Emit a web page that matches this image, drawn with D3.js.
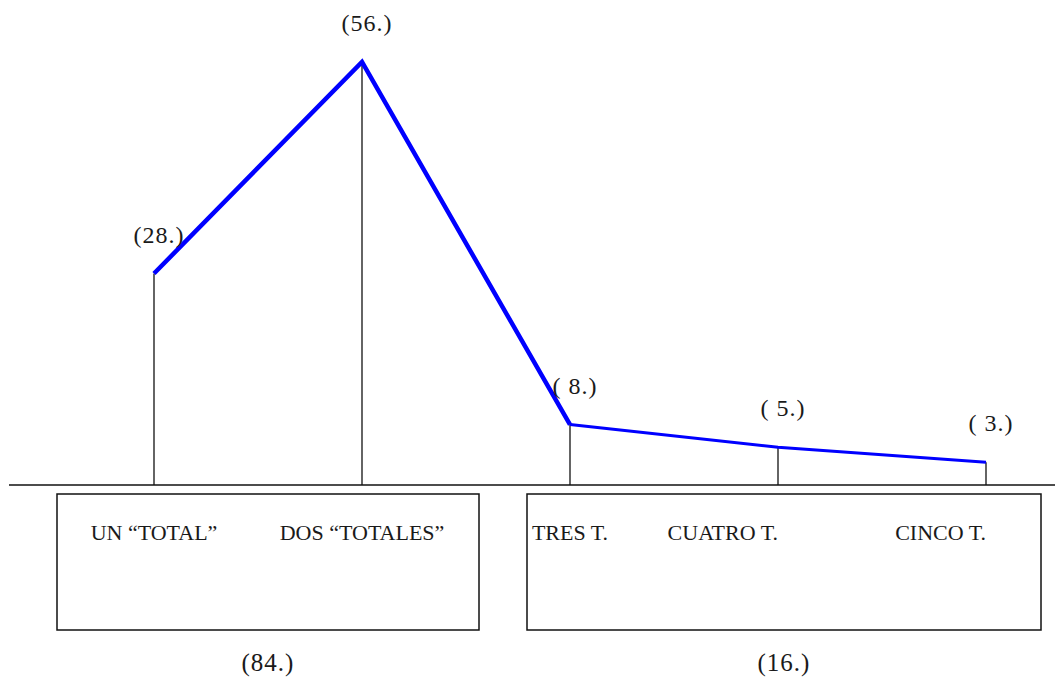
<!DOCTYPE html>
<html lang="es">
<head>
<meta charset="UTF-8">
<title>Totales</title>
<style>
    body { margin: 0; background: #fff; }
    svg { display: block; }
    text { font-family: "Liberation Serif", "Times New Roman", serif; fill: #1a1a1a; white-space: pre; }
    .stem, .base, .box { stroke: #111; fill: none; }
</style>
<script src="https://cdn.jsdelivr.net/npm/d3@7"></script>
</head>
<body>
<svg width="1055" height="677"></svg>
<script>
    // data
    var categories = ["UN \u201CTOTAL\u201D", "DOS \u201CTOTALES\u201D", "TRES T.", "CUATRO T.", "CINCO T."];
    var values = [28, 56, 8, 5, 3];
    var groups = [[0, 1], [2, 3, 4]];

    var svg = d3.select("svg"),
        width = +svg.attr("width"),
        height = +svg.attr("height");

    var baseY = 485;

    var x = d3.scalePoint()
        .domain(d3.range(categories.length))
        .range([154, 986]);

    var y = d3.scaleLinear()
        .domain([0, 56])
        .range([baseY, 62]);

    // box padding left/right for each group
    var boxPad = [[97, 117], [43, 55]];
    var boxTop = 494, boxBottom = 630;

    function fmt(v) {
        return "(" + (v < 10 ? " " : "") + v + ".)";
    }

    // baseline
    svg.append("line")
        .attr("class", "base")
        .attr("x1", 9).attr("x2", width)
        .attr("y1", baseY).attr("y2", baseY)
        .attr("stroke-width", 1.5);

    // stems
    svg.selectAll(".stem")
        .data(values)
        .enter().append("line")
        .attr("class", "stem")
        .attr("x1", function (d, i) { return x(i); })
        .attr("x2", function (d, i) { return x(i); })
        .attr("y1", baseY)
        .attr("y2", function (d) { return y(d); })
        .attr("stroke-width", 1.3);

    var line = d3.line()
        .x(function (i) { return x(i); })
        .y(function (i) { return y(values[i]); });

    // thick part (first group up to the drop) and thin tail
    svg.append("path")
        .attr("d", line([0, 1, 2]))
        .attr("fill", "none")
        .attr("stroke", "#0000ff")
        .attr("stroke-width", 4.5);

    svg.append("path")
        .attr("d", line([2, 3, 4]))
        .attr("fill", "none")
        .attr("stroke", "#0000ff")
        .attr("stroke-width", 3);

    // value labels
    svg.selectAll(".val")
        .data(values)
        .enter().append("text")
        .attr("class", "val")
        .attr("x", function (d, i) { return x(i) + 5; })
        .attr("y", function (d) { return y(d) - 31; })
        .attr("text-anchor", "middle")
        .attr("font-size", 24)
        .attr("letter-spacing", 1)
        .text(fmt);

    // group boxes
    var box = svg.selectAll(".grp")
        .data(groups)
        .enter().append("g")
        .attr("class", "grp");

    function boxL(g, gi) { return x(g[0]) - boxPad[gi][0]; }
    function boxR(g, gi) { return x(g[g.length - 1]) + boxPad[gi][1]; }

    box.append("rect")
        .attr("class", "box")
        .attr("x", boxL)
        .attr("y", boxTop)
        .attr("width", function (g, gi) { return boxR(g, gi) - boxL(g, gi); })
        .attr("height", boxBottom - boxTop)
        .attr("stroke-width", 1.5);

    box.append("text")
        .attr("x", function (g, gi) { return (boxL(g, gi) + boxR(g, gi)) / 2; })
        .attr("y", 671)
        .attr("text-anchor", "middle")
        .attr("font-size", 25)
        .attr("letter-spacing", 1)
        .text(function (g) { return fmt(d3.sum(g, function (i) { return values[i]; })); });

    // category labels inside boxes
    svg.selectAll(".cat")
        .data(categories)
        .enter().append("text")
        .attr("class", "cat")
        .attr("x", function (d, i) { return x(i); })
        .attr("y", 540)
        .attr("text-anchor", function (d, i) { return i < 3 ? "middle" : "end"; })
        .attr("font-size", 22)
        .text(function (d) { return d; });
</script>
</body>
</html>
